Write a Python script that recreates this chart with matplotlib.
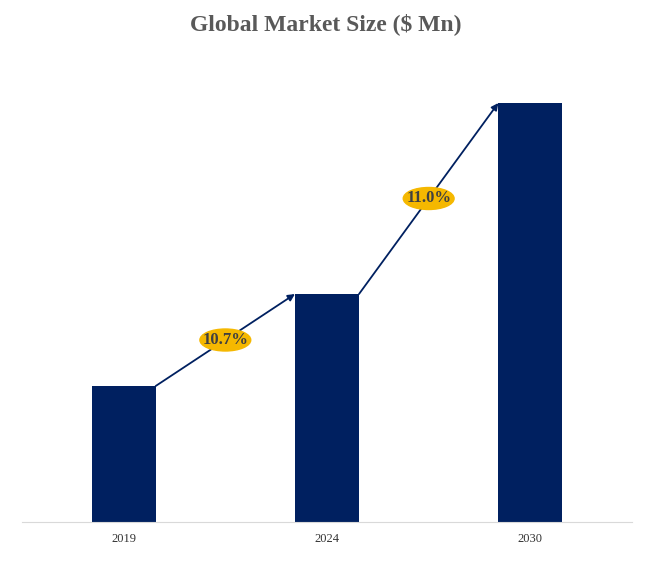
import matplotlib.pyplot as plt
from matplotlib.patches import Ellipse

years = ["2019", "2024", "2030"]
values = [136, 228, 419]
cagr_labels = ["10.7%", "11.0%"]

plt.rcParams["font.family"] = "Liberation Serif"

fig = plt.figure(figsize=(6.52, 5.66), dpi=100)
ax = fig.add_axes([22 / 652, 44 / 566, 610 / 652, 462 / 566])

x = list(range(len(years)))
w = 0.315
ax.bar(x, values, width=w, color="#002060")
ax.set_xlim(-0.5, 2.5)
ax.set_ylim(0, 462)

for i in range(len(values) - 1):
    x0, y0 = x[i] + w / 2, values[i]
    x1, y1 = x[i + 1] - w / 2, values[i + 1]
    ax.annotate("", xy=(x1, y1), xytext=(x0, y0),
                arrowprops=dict(arrowstyle="-|>", color="#002060", lw=1.3,
                                mutation_scale=10, shrinkA=0, shrinkB=0))
    mx, my = (x0 + x1) / 2, (y0 + y1) / 2
    ax.add_patch(Ellipse((mx, my), 0.25, 22, color="#F5B800", zorder=3))
    ax.text(mx, my, cagr_labels[i], ha="center", va="center", fontsize=12,
            fontweight="bold", color="#404040", zorder=4)

ax.set_xticks(x)
ax.set_xticklabels(years, fontsize=9, color="#333333")
ax.tick_params(axis="x", length=0, pad=8)
ax.set_yticks([])
for s in ["top", "right", "left"]:
    ax.spines[s].set_visible(False)
ax.spines["bottom"].set_color("#d9d9d9")

fig.text(0.5, 1 - 24 / 566, "Global Market Size ($ Mn)", ha="center", va="center",
         fontsize=17, fontweight="bold", color="#595959")

fig.savefig("out.png", dpi=100)
